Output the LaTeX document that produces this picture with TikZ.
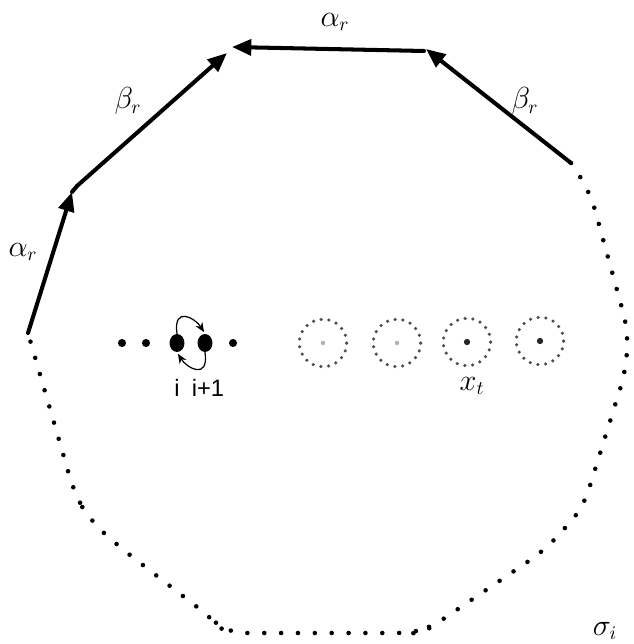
\documentclass[tikz,border=0pt]{standalone}
\usepackage{amsmath,amssymb}
\usepackage{fontspec}
\newfontfamily\idxfont{Liberation Sans}
\usetikzlibrary{arrows.meta,shapes.geometric}

\begin{document}
\begin{tikzpicture}[x=0.02cm, y=-0.02cm, line cap=round, line join=round,
  edge/.style={line width=2.3pt, -{Triangle[length=11pt,width=9pt]}},
  boundary/.style={line width=2.6pt, dash pattern=on 0pt off 9.6pt, rounded corners=10pt},
  lbl/.style={inner sep=1pt, font=\fontsize{16}{18}\selectfont},
  idx/.style={inner sep=1pt, font=\idxfont\fontsize{13.5}{15}\selectfont},
  smalldot/.style={circle, fill=black, inner sep=0pt, minimum size=4.6pt},
  bigdot/.style={ellipse, fill=black, inner sep=0pt, minimum width=8.5pt, minimum height=10.2pt},
  ring/.style={circle, draw=black!70, inner sep=0pt, minimum size=27pt,
    line width=2pt, dash pattern=on 0pt off 4.45pt},
  swaparrow/.style={line width=0.7pt, -{Stealth[length=5.5pt,width=4.5pt]}, shorten >=1pt}]

% Frame
\useasboundingbox (0,0) rectangle (633,644);

% Corners of the solid path
\coordinate (v1) at (28,333);
\coordinate (v2) at (72,192);
\coordinate (v2b) at (77,186);
\coordinate (v3) at (227,53);
\coordinate (v3b) at (232,47);
\coordinate (v4) at (424,51);
\coordinate (v4b) at (426,49);
\coordinate (v5) at (571,163);

% Solid path with arrows
\draw[edge] (v1) -- (v2);
\draw[line width=2.3pt] (v2) -- (v2b);
\draw[edge] (v2b) -- (v3);
\draw[edge] (v4) -- (v3b);
\draw[edge] (v5) -- (v4b);

\node[lbl] (a1) at (23,252) {$\alpha_r$};
\node[lbl] (b1) at (128,101) {$\beta_r$};
\node[lbl] (a2) at (335,22) {$\alpha_r$};
\node[lbl] (b2) at (525,101) {$\beta_r$};

% Dotted part of the loop
\draw[boundary] (v5) -- (590,192) -- (628,330) -- (626,370) -- (583,508)
  -- (545,550) -- (430,628) -- (414,633) -- (226,633) -- (210,617)
  -- (117,545) -- (90,520) -- (75,495) -- (v1);
\node[lbl] (sig) at (605,631) {$\sigma_i$};

% Points i and i+1
\node[smalldot] (p1) at (122,343) {};
\node[smalldot] (p2) at (146,343) {};
\node[bigdot] (pi) at (177,343) {};
\node[bigdot] (pj) at (205,343) {};
\node[smalldot] (p5) at (233,343) {};

\draw[swaparrow] (pi.north) .. controls +(-4,-28) and +(-10,-16) .. (pj.north);
\draw[swaparrow] (pj.south) .. controls +(4,28) and +(10,16) .. (pi.south);

\node[idx] (li) at (177,388) {i};
\node[idx] (lj) at (208,388) {i+1};

% Punctures x_t
\foreach \n/\cx/\cy/\dotc/\dots in {1/323/343/black!30/2.5pt, 2/397/343/black!30/2.5pt,
  3/467/342/black!85/3.6pt, 4/540/341/black!85/3.6pt} {
  \node[ring] (r\n) at (\cx,\cy) {};
  \fill[\dotc] (r\n.center) circle (\dots/2);
}
\node[lbl] (xt) at (472,386) {$x_t$};

\end{tikzpicture}
\end{document}
